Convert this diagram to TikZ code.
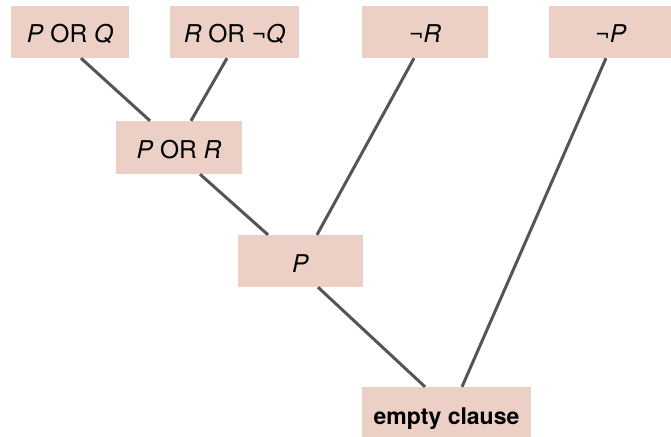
\documentclass[tikz,border=0pt]{standalone}
\usepackage{fontspec}
\setmainfont{TeX Gyre Heros}
\begin{document}
\begin{tikzpicture}[x=1pt,y=-1pt,
  clause/.style={fill=boxfill,draw=none,inner sep=0pt,minimum height=52pt,
    text height=22pt,text depth=0pt,font=\fontsize{24.5}{28}\selectfont},
  link/.style={draw=linkgray,line width=3pt}]
\definecolor{boxfill}{HTML}{ECD0C6}
\definecolor{linkgray}{HTML}{555555}
\useasboundingbox (0,0) rectangle (671,436);
\begin{scope}
\clip (0,0) rectangle (671,436);
% input clauses
\node[clause,minimum width=118pt] (pq)  at (70,32)    {\textit{P} OR \textit{Q}};
\node[clause,minimum width=129pt] (rnq) at (234.5,32) {\textit{R} OR ¬\textit{Q}};
\node[clause,minimum width=126pt] (nr)  at (425,32)   {¬\textit{R}};
\node[clause,minimum width=124pt] (np)  at (611,32)   {¬\textit{P}};
% resolvents
\node[clause,minimum width=126pt,minimum height=53pt] (pr) at (179,147.5) {\textit{P} OR \textit{R}};
\node[clause,minimum width=125pt] (p)   at (300.5,261) {\textit{P}};
\node[clause,minimum width=169pt,font=\fontsize{23}{27}\selectfont] (e) at (446.5,413) {\textbf{empty clause}};
% resolution steps
\draw[link] ([xshift=11pt]pq.south)   -- ([xshift=-29pt]pr.north);
\draw[link] ([xshift=-7.5pt]rnq.south) -- ([xshift=12pt]pr.north);
\draw[link] ([xshift=21pt]pr.south)   -- ([xshift=-32.5pt]p.north);
\draw[link] ([xshift=-11pt]nr.south)  -- ([xshift=16.5pt]p.north);
\draw[link] ([xshift=17.5pt]p.south)  -- ([xshift=-21.5pt]e.north);
\draw[link] ([xshift=-5pt]np.south)   -- ([xshift=15.5pt]e.north);
\end{scope}
\end{tikzpicture}
\end{document}
